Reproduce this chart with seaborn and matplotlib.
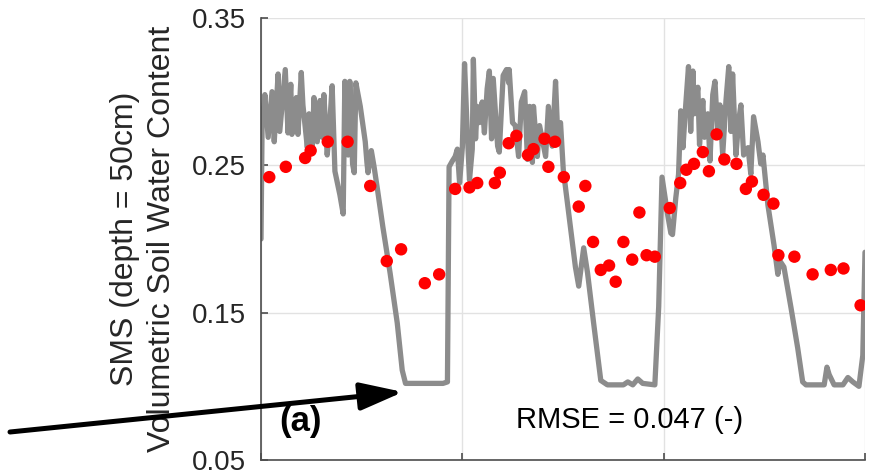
import numpy as np
import pandas as pd
import matplotlib
matplotlib.use("Agg")
import matplotlib.pyplot as plt
import seaborn as sns
from matplotlib.patches import FancyArrowPatch

# ---- data (day of record, volumetric soil water content) ----
sms_day = [0, 2, 7, 13, 20, 24, 31, 34, 44, 49, 54, 56, 64, 67, 73, 76, 84, 87, 93, 96,
           102, 107, 111, 114, 120, 123, 129, 134, 143, 149, 152, 158, 161, 166, 169, 172,
           180, 189, 192, 194, 200, 205, 211, 221, 234, 247, 256, 262, 330, 338, 341, 347,
           352, 356, 360, 365, 369, 374, 378, 383, 385, 389, 392, 396, 401, 405, 410, 414,
           418, 421, 429, 432, 439, 445, 449, 450, 456, 461, 467, 472, 478, 483, 487, 492,
           494, 501, 505, 516, 521, 528, 534, 538, 543, 548, 561, 570, 576, 585, 592, 603,
           616, 628, 657, 665, 674, 683, 692, 714, 721, 727, 737, 743, 746, 752, 757, 761,
           765, 770, 775, 779, 783, 786, 792, 795, 801, 804, 810, 814, 819, 823, 828, 832,
           837, 843, 848, 852, 855, 861, 866, 870, 875, 883, 888, 893, 901, 906, 910, 919,
           930, 937, 941, 948, 961, 973, 982, 988, 1021, 1026, 1030, 1039, 1055, 1064, 1073,
           1084, 1091, 1095]
sms_value = [0.200, 0.278, 0.298, 0.269, 0.300, 0.266, 0.312, 0.273, 0.315, 0.272, 0.305,
             0.271, 0.296, 0.271, 0.313, 0.291, 0.262, 0.285, 0.262, 0.296, 0.266, 0.294,
             0.269, 0.298, 0.257, 0.269, 0.304, 0.246, 0.230, 0.217, 0.307, 0.257, 0.307,
             0.251, 0.245, 0.306, 0.290, 0.266, 0.252, 0.245, 0.260, 0.249, 0.234, 0.208,
             0.177, 0.143, 0.111, 0.102, 0.102, 0.103, 0.249, 0.253, 0.256, 0.261, 0.238,
             0.262, 0.319, 0.272, 0.240, 0.261, 0.322, 0.268, 0.290, 0.279, 0.293, 0.272,
             0.302, 0.314, 0.268, 0.309, 0.263, 0.259, 0.311, 0.315, 0.306, 0.315, 0.279,
             0.277, 0.256, 0.293, 0.300, 0.254, 0.290, 0.252, 0.290, 0.256, 0.277, 0.256,
             0.290, 0.263, 0.307, 0.270, 0.279, 0.247, 0.208, 0.181, 0.168, 0.194, 0.177,
             0.143, 0.104, 0.101, 0.101, 0.103, 0.101, 0.105, 0.102, 0.101, 0.154, 0.242,
             0.217, 0.204, 0.203, 0.228, 0.244, 0.287, 0.262, 0.291, 0.317, 0.273, 0.314,
             0.285, 0.303, 0.264, 0.294, 0.269, 0.285, 0.253, 0.298, 0.307, 0.271, 0.291,
             0.257, 0.294, 0.317, 0.273, 0.312, 0.257, 0.280, 0.291, 0.257, 0.262, 0.244,
             0.283, 0.266, 0.251, 0.257, 0.223, 0.196, 0.176, 0.185, 0.181, 0.153, 0.126,
             0.103, 0.101, 0.101, 0.113, 0.108, 0.101, 0.101, 0.106, 0.103, 0.100, 0.121,
             0.191]

obs_day = [15, 45, 80, 90, 121, 157, 198, 228, 254, 297, 323, 352, 378, 392, 424, 433,
           449, 463, 484, 494, 514, 521, 533, 549, 576, 588, 602, 616, 631, 643, 657, 673,
           686, 699, 714, 741, 760, 771, 785, 801, 812, 826, 840, 862, 879, 890, 911, 929,
           938, 967, 1000, 1033, 1056, 1087]
obs_value = [0.242, 0.249, 0.255, 0.260, 0.266, 0.266, 0.236, 0.185, 0.193, 0.170, 0.176,
             0.234, 0.235, 0.238, 0.238, 0.245, 0.265, 0.270, 0.257, 0.261, 0.268, 0.249,
             0.266, 0.242, 0.222, 0.236, 0.198, 0.179, 0.182, 0.171, 0.198, 0.186, 0.218,
             0.189, 0.188, 0.221, 0.238, 0.247, 0.251, 0.259, 0.246, 0.271, 0.254, 0.251,
             0.234, 0.239, 0.230, 0.224, 0.189, 0.188, 0.176, 0.179, 0.180, 0.155]

x_ticks = [0, 365, 730, 1095]
y_ticks = [0.05, 0.15, 0.25, 0.35]
y_tick_labels = ["0.05", "0.15", "0.25", "0.35"]
ylabel_text = "SMS (depth = 50cm)\nVolumetric Soil Water Content"
panel_label = "(a)"
rmse_text = "RMSE = 0.047 (-)"

line_df = pd.DataFrame({"day": sms_day, "sms": sms_value})
obs_df = pd.DataFrame({"day": obs_day, "obs": obs_value})

sns.set_theme(style="white")
plt.rcParams["font.family"] = ["Liberation Sans", "DejaVu Sans"]

fig = plt.figure(figsize=(8.75, 4.71), dpi=100)
ax = fig.add_axes([261 / 875, 11 / 471, 604 / 875, 442 / 471])

sns.lineplot(data=line_df, x="day", y="sms", color="#8c8c8c", lw=3.8,
             estimator=None, sort=False, ax=ax, zorder=2)
sns.scatterplot(data=obs_df, x="day", y="obs", color="#ff0000", s=80,
                edgecolor="none", linewidth=0, ax=ax, zorder=3)

ax.set_xlim(0, 1095)
ax.set_ylim(0.05, 0.35)
ax.set_xticks(x_ticks)
ax.set_xticklabels([])
ax.set_xlabel("")
ax.set_yticks(y_ticks)
ax.set_yticklabels(y_tick_labels, fontsize=20, color="#262626")
ax.grid(True, color="#e2e2e2", lw=1.0)
ax.set_axisbelow(True)
for s in ["top", "right"]:
    ax.spines[s].set_visible(False)
for s in ["left", "bottom"]:
    ax.spines[s].set_color("#4d4d4d")
    ax.spines[s].set_linewidth(1.2)
ax.tick_params(axis="both", direction="in", length=5, width=1.2, color="#4d4d4d",
               left=True, bottom=True)
ax.tick_params(axis="y", pad=11)

ax.set_ylabel(ylabel_text, fontsize=23, color="#262626", linespacing=1.3)
ax.yaxis.set_label_coords(-0.139, 0.5)

ax.text(71, 0.0697, panel_label, fontsize=25, fontweight="bold", ha="center",
        va="baseline", color="black")
ax.text(668, 0.0718, rmse_text, fontsize=21, ha="center", va="baseline", color="black")

arrow = FancyArrowPatch((10 / 875, 1 - 432 / 471), (403 / 875, 1 - 392 / 471),
                        transform=fig.transFigure,
                        arrowstyle="-|>,head_length=1.3,head_width=0.42",
                        mutation_scale=20, lw=3.6, color="black",
                        shrinkA=0, shrinkB=0, zorder=10)
fig.add_artist(arrow)

fig.savefig("out.png", dpi=100)
